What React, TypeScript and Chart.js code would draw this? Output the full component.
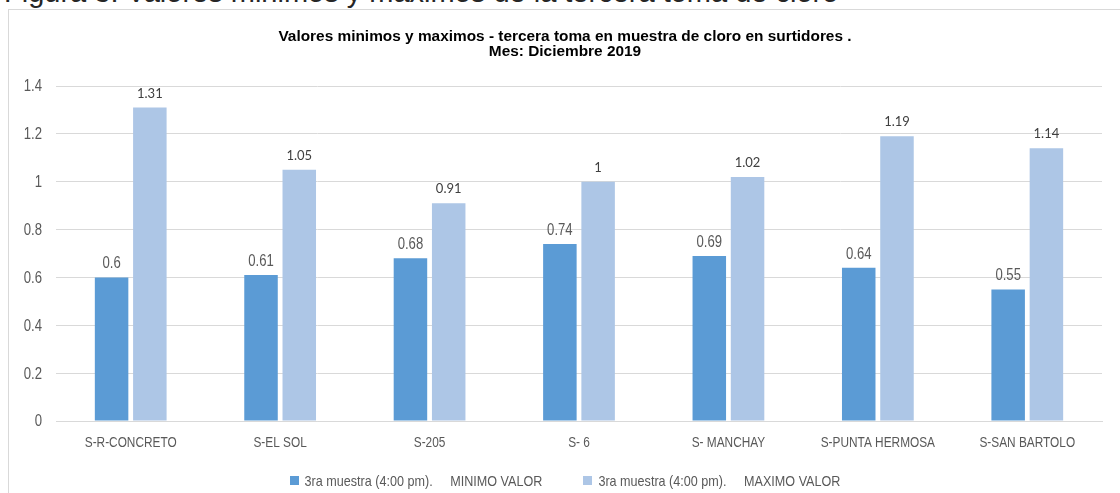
import React, { useEffect, useRef } from "react";
import { Chart, registerables } from "chart.js";

Chart.register(...registerables);

const categories = [
  "S-R-CONCRETO",
  "S-EL SOL",
  "S-205",
  "S- 6",
  "S- MANCHAY",
  "S-PUNTA HERMOSA",
  "S-SAN BARTOLO",
];
const minValues = [0.6, 0.61, 0.68, 0.74, 0.69, 0.64, 0.55];
const maxValues = [1.31, 1.05, 0.91, 1, 1.02, 1.19, 1.14];
const seriesNames = [
  "3ra muestra (4:00 pm).     MINIMO VALOR",
  "3ra muestra (4:00 pm).     MAXIMO VALOR",
];
const titleLines = [
  "Valores minimos y maximos - tercera toma en muestra de cloro en surtidores .",
  "Mes: Diciembre 2019",
];
const caption = "Figura 3: Valores minimos y maximos de la tercera toma de cloro";
const yTickLabels = ["0", "0.2", "0.4", "0.6", "0.8", "1", "1.2", "1.4"];

const W = 1120;
const H = 493;
const SANS = '"Liberation Sans", Arial, sans-serif';

function narrowText(
  ctx: CanvasRenderingContext2D,
  text: string,
  x: number,
  y: number,
  align: CanvasTextAlign,
  sx: number
) {
  ctx.save();
  ctx.translate(x, y);
  ctx.scale(sx, 1);
  ctx.textAlign = align;
  ctx.fillText(text, 0, 0);
  ctx.restore();
}

const overlayPlugin = {
  id: "overlay",
  afterDatasetsDraw(chart: any) {
    const ctx: CanvasRenderingContext2D = chart.ctx;
    ctx.save();
    chart.data.datasets.forEach((ds: any, di: number) => {
      const meta = chart.getDatasetMeta(di);
      meta.data.forEach((bar: any, i: number) => {
        const v = String(ds.data[i]);
        ctx.fillStyle = "#595959";
        ctx.textBaseline = "alphabetic";
        if (di === 0) {
          ctx.font = `16px ${SANS}`;
          narrowText(ctx, v, bar.x, bar.y - 9, "center", 0.82);
        } else {
          ctx.font = `13px Lato, "Open Sans", sans-serif`;
          ctx.fillStyle = "#404040";
          narrowText(ctx, v, bar.x, bar.y - 10, "center", 1);
        }
      });
    });
    ctx.restore();
  },
  afterDraw(chart: any) {
    const ctx: CanvasRenderingContext2D = chart.ctx;
    ctx.save();
    // axis tick labels (narrow face)
    const ys = chart.scales.y;
    ctx.fillStyle = "#595959";
    ctx.font = `16px ${SANS}`;
    ctx.textBaseline = "middle";
    ys.ticks.forEach((t: any, i: number) => {
      const lbl = yTickLabels[Math.round(Number(t.value) * 5)] ?? "";
      narrowText(ctx, lbl, chart.chartArea.left - 14, ys.getPixelForTick(i) + 1, "right", 0.82);
    });
    const xs = chart.scales.x;
    ctx.font = `15px ${SANS}`;
    categories.forEach((c, i) => {
      narrowText(ctx, c, xs.getPixelForTick(i), chart.chartArea.bottom + 22, "center", 0.79);
    });
    // title
    ctx.fillStyle = "#000";
    ctx.font = `bold 15.4px ${SANS}`;
    ctx.textAlign = "center";
    ctx.textBaseline = "middle";
    titleLines.forEach((t, i) => ctx.fillText(t, 565, 37 + i * 15));
    // legend
    ctx.font = `15px ${SANS}`;
    const lsx = 0.84;
    const box = 9;
    const gapBox = 6;
    const gapItem = 41;
    const widths = chart.data.datasets.map(
      (d: any) => box + gapBox + ctx.measureText(d.label).width * lsx
    );
    const total =
      widths.reduce((a: number, b: number) => a + b, 0) + gapItem * (widths.length - 1);
    let x = 565 - total / 2;
    const ly = 481;
    chart.data.datasets.forEach((d: any, i: number) => {
      ctx.fillStyle = d.backgroundColor;
      ctx.fillRect(Math.round(x), ly - 5, box, box);
      ctx.fillStyle = "#595959";
      narrowText(ctx, d.label, x + box + gapBox, ly + 1, "left", lsx);
      x += widths[i] + gapItem;
    });
    ctx.restore();
  },
};

export default function App() {
  const ref = useRef<HTMLCanvasElement | null>(null);

  useEffect(() => {
    if (!ref.current) return;
    const chart = new Chart(ref.current, {
      type: "bar",
      data: {
        labels: categories,
        datasets: [
          {
            label: seriesNames[0],
            data: minValues,
            backgroundColor: "#5b9bd5",
            categoryPercentage: 0.512,
            barPercentage: 0.876,
          },
          {
            label: seriesNames[1],
            data: maxValues,
            backgroundColor: "#adc6e6",
            categoryPercentage: 0.512,
            barPercentage: 0.876,
          },
        ],
      },
      options: {
        responsive: false,
        animation: false,
        layout: { padding: { left: 9, right: 18, top: 86, bottom: 0 } },
        plugins: {
          legend: { display: false },
          title: { display: false },
          tooltip: { enabled: false },
        },
        scales: {
          x: {
            grid: { display: false, drawTicks: false },
            border: { color: "#d9d9d9" },
            ticks: { display: false },
            afterFit: (s: any) => {
              s.height = 72;
            },
          },
          y: {
            min: 0,
            max: 1.4,
            grid: { color: "#d9d9d9", drawTicks: false },
            border: { display: false },
            ticks: { stepSize: 0.2, display: false },
            afterFit: (s: any) => {
              s.width = 47;
            },
          },
        },
      },
      plugins: [overlayPlugin],
    });
    return () => chart.destroy();
  }, []);

  return (
    <div
      style={{
        position: "fixed",
        left: 0,
        top: 0,
        width: W,
        height: H,
        overflow: "hidden",
        background: "#fff",
      }}
    >
      <div
        style={{
          position: "absolute",
          left: 4,
          top: -22,
          fontFamily: SANS,
          fontSize: 29,
          lineHeight: "29px",
          color: "#262626",
          whiteSpace: "nowrap",
        }}
      >
        {caption}
      </div>
      <div
        style={{
          position: "absolute",
          left: 8,
          top: 9,
          width: 1200,
          height: 600,
          border: "1px solid #d9d9d9",
          background: "#fff",
        }}
      />
      <canvas
        ref={ref}
        width={W}
        height={H}
        style={{ position: "absolute", left: 0, top: 0, width: W, height: H }}
      />
    </div>
  );
}
